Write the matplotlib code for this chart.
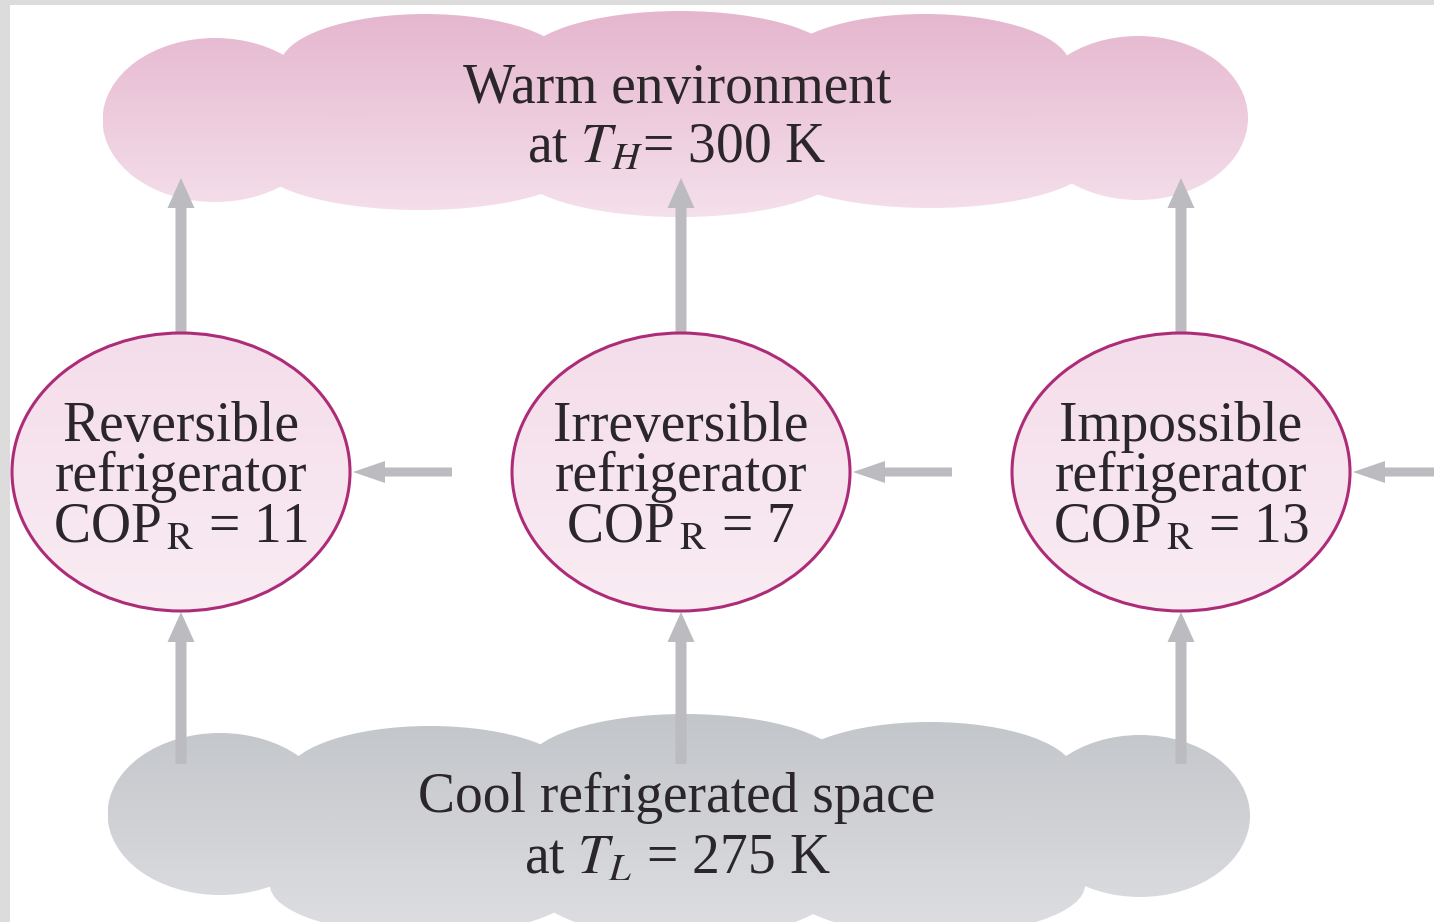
import numpy as np
import matplotlib
matplotlib.use("Agg")
import matplotlib.pyplot as plt
from matplotlib.patches import Ellipse, Rectangle

# ---- data ----
fridge_names = ["Reversible", "Irreversible", "Impossible"]
fridge_word = "refrigerator"
cop_values = [11, 7, 13]
T_H = 300
T_L = 275
warm_label = "Warm environment"
cool_label = "Cool refrigerated space"

plt.rcParams['font.family'] = ['Liberation Serif', 'DejaVu Serif']
plt.rcParams['mathtext.fontset'] = 'stix'

W, H = 1434, 922
fig = plt.figure(figsize=(W / 100, H / 100), dpi=100)
ax = fig.add_axes([0, 0, 1, 1])
ax.set_xlim(0, W)
ax.set_ylim(H, 0)
ax.axis('off')

TXT = '#2b2629'
ARROW = '#bbbbc0'
EDGE = '#ad2c78'


def grad_shape(patch, y0, y1, c0, c1, z):
    patch.set_facecolor('none')
    patch.set_edgecolor('none')
    ax.add_patch(patch)
    g = np.linspace(0, 1, 256)[:, None, None]
    c0 = np.array(c0)[None, None, :] / 255
    c1 = np.array(c1)[None, None, :] / 255
    img = c0 * (1 - g) + c1 * g
    ext = patch.get_extents().transformed(ax.transData.inverted())
    x0, x1 = min(ext.x0, ext.x1), max(ext.x0, ext.x1)
    im = ax.imshow(img, extent=(x0, x1, y1, y0), aspect='auto',
                   origin='upper', zorder=z, interpolation='bilinear')
    im.set_clip_path(patch)


def cloud(body, ends, top_bumps, bot_bumps, y0, y1, c0, c1):
    shapes = []
    bx0, by0, bx1, by1 = body
    shapes.append(Rectangle((bx0, by0), bx1 - bx0, by1 - by0))
    for (cx, cy, w, h) in ends + top_bumps + bot_bumps:
        shapes.append(Ellipse((cx, cy), w, h))
    for s in shapes:
        grad_shape(s, y0, y1, c0, c1, 1)


# warm cloud
cloud(body=(315, 45, 1045, 192),
      ends=[(215, 120, 225, 164), (1138, 118, 220, 164)],
      top_bumps=[(425, 66, 290, 104), (680, 63, 318, 104), (925, 66, 290, 104)],
      bot_bumps=[(420, 160, 330, 100), (680, 167, 330, 100), (930, 158, 330, 100)],
      y0=10, y1=218, c0=(229, 182, 206), c1=(245, 224, 235))

# cool cloud
cloud(body=(320, 748, 1045, 888),
      ends=[(220, 814, 225, 162), (1140, 816, 220, 162)],
      top_bumps=[(430, 778, 290, 104), (685, 766, 318, 104), (930, 774, 290, 104)],
      bot_bumps=[(425, 885, 310, 100), (685, 888, 300, 100), (935, 885, 300, 100)],
      y0=713, y1=940, c0=(194, 197, 201), c1=(223, 223, 227))

# grey frame strips
ax.add_patch(Rectangle((0, 0), W, 5, facecolor='#dcdcdc', edgecolor='none', zorder=0.5))
ax.add_patch(Rectangle((0, 0), 10, H, facecolor='#dcdcdc', edgecolor='none', zorder=0.5))

centers = [181, 681, 1181]
cy, ew, eh = 472, 338, 278

for i, cx in enumerate(centers):
    # up arrow to warm cloud
    ax.arrow(cx, cy - eh / 2, 0, -(cy - eh / 2 - 178), width=11, head_width=27,
             head_length=30, length_includes_head=True, color=ARROW, lw=0, zorder=2)
    # up arrow from cool cloud
    ax.arrow(cx, 764, 0, -(764 - (cy + eh / 2 + 1)), width=11, head_width=27,
             head_length=30, length_includes_head=True, color=ARROW, lw=0, zorder=2)
    # work input arrow (from right)
    xs = cx + 271 if i < 2 else W + 10
    xe = cx + ew / 2 + 3
    ax.arrow(xs, cy, -(xs - xe), 0, width=9, head_width=22, head_length=32,
             length_includes_head=True, color=ARROW, lw=0, zorder=2)
    # refrigerator ellipse
    grad_shape(Ellipse((cx, cy), ew, eh), cy - eh / 2, cy + eh / 2,
               (244, 221, 234), (249, 236, 243), 3)
    ax.add_patch(Ellipse((cx, cy), ew, eh, facecolor='none', edgecolor=EDGE,
                         lw=2.2, zorder=3.5))
    ax.text(cx, 441, fridge_names[i], ha='center', va='baseline',
            fontsize=40, color=TXT, zorder=5)
    ax.text(cx, 491, fridge_word, ha='center', va='baseline',
            fontsize=40, color=TXT, zorder=5)
    ax.text(cx, 542, r"COP$_{\,\mathrm{R}}$ = %d" % cop_values[i], ha='center',
            va='baseline', fontsize=40, color=TXT, zorder=5)

ax.text(677, 103, warm_label, ha='center', va='baseline', fontsize=40, color=TXT, zorder=5)
ax.text(677, 162, r"at $T_H$= %d K" % T_H, ha='center', va='baseline', fontsize=40,
        color=TXT, zorder=5)
ax.text(677, 812, cool_label, ha='center', va='baseline', fontsize=40, color=TXT, zorder=5)
ax.text(677, 873, r"at $T_L$ = %d K" % T_L, ha='center', va='baseline', fontsize=40,
        color=TXT, zorder=5)

ax.set_xlim(0, W)
ax.set_ylim(H, 0)
fig.savefig("out.png", dpi=100)
